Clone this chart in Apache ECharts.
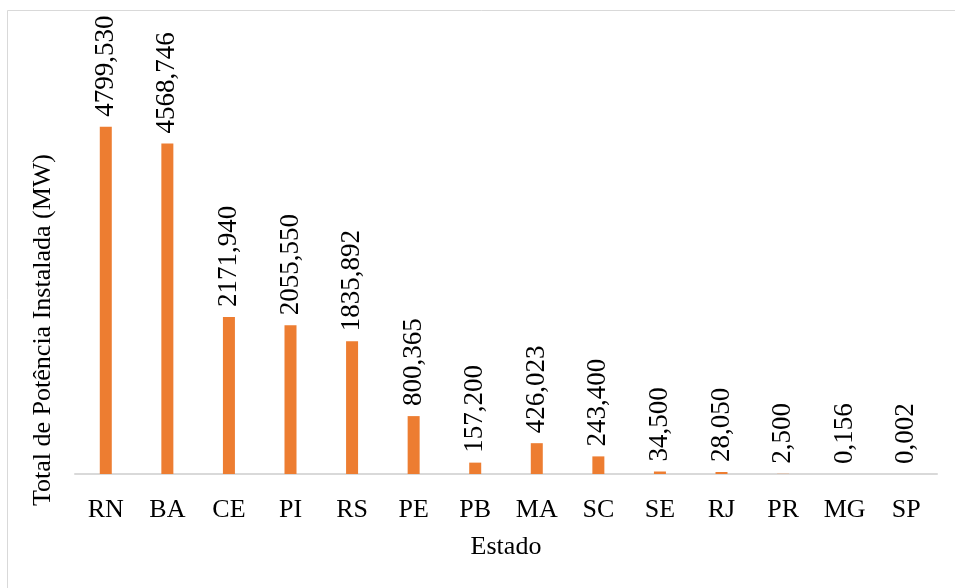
<!DOCTYPE html>
<html>
<head>
<meta charset="utf-8">
<script src="https://cdn.jsdelivr.net/npm/echarts@6/dist/echarts.min.js"></script>
<style>
  html, body { margin: 0; padding: 0; background: #fff; }
  #chart { width: 955px; height: 588px; }
</style>
</head>
<body>
<div id="chart"></div>
<script>
var estados = ['RN', 'BA', 'CE', 'PI', 'RS', 'PE', 'PB', 'MA', 'SC', 'SE', 'RJ', 'PR', 'MG', 'SP'];
var potencia = [4799.530, 4568.746, 2171.940, 2055.550, 1835.892, 800.365, 157.200, 426.023, 243.400, 34.500, 28.050, 2.500, 0.156, 0.002];

var serif = '"Liberation Serif", "Times New Roman", serif';
var myChart = echarts.init(document.getElementById('chart'));

option = {
    backgroundColor: '#fff',
    animation: false,
    graphic: [
        {
            type: 'rect',
            shape: { x: 7.5, y: 10.5, width: 960, height: 600 },
            style: { fill: 'none', stroke: '#d9d9d9', lineWidth: 1 }
        },
        {
            type: 'text',
            x: 43,
            y: 330,
            rotation: Math.PI / 2,
            style: {
                text: 'Total de Potência Instalada (MW)',
                font: '26px ' + serif,
                fill: '#000',
                textAlign: 'center',
                textVerticalAlign: 'middle'
            }
        }
    ],
    grid: { left: 75, right: 18, top: 40, bottom: 114 },
    xAxis: {
        type: 'category',
        data: estados,
        name: 'Estado',
        nameLocation: 'middle',
        nameGap: 60,
        nameTextStyle: { fontFamily: serif, fontSize: 26, color: '#000' },
        axisLine: { lineStyle: { color: '#d9d9d9', width: 2 } },
        axisTick: { show: false },
        axisLabel: { fontFamily: serif, fontSize: 26, color: '#000', margin: 23, interval: 0 }
    },
    yAxis: {
        type: 'value',
        min: 0,
        max: 6000,
        show: false,
        splitLine: { show: false }
    },
    series: [
        {
            type: 'bar',
            data: potencia,
            barWidth: 12,
            itemStyle: { color: '#ED7D31' },
            label: {
                show: true,
                position: 'top',
                distance: 10,
                rotate: 90,
                align: 'left',
                verticalAlign: 'middle',
                fontFamily: serif,
                fontSize: 27,
                color: '#000',
                formatter: function (p) {
                    return p.value.toFixed(3).replace('.', ',');
                }
            }
        }
    ]
};

myChart.setOption(option);
</script>
</body>
</html>
